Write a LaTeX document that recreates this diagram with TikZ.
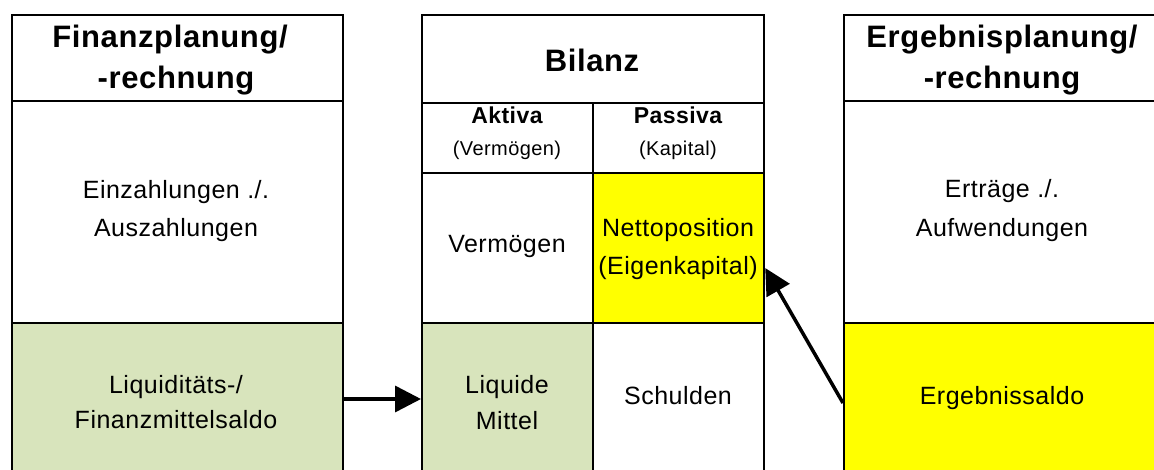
\documentclass[tikz,border=0pt]{standalone}
\usepackage{fontspec}
\setmainfont{Liberation Sans}[LetterSpace=2]
\usetikzlibrary{arrows.meta}
\definecolor{liqgreen}{HTML}{D8E4BC}
\definecolor{hiyellow}{HTML}{FFFF00}
\tikzset{
 cell/.style={draw=black,line width=2.2pt,inner sep=0pt,anchor=north west,fill=white},
 hdtext/.style={anchor=base,inner sep=0pt,font=\fontsize{31}{36}\selectfont\bfseries},
 subtext/.style={anchor=base,inner sep=0pt,font=\fontsize{23}{26}\selectfont\bfseries},
 smalltext/.style={anchor=base,inner sep=0pt,font=\fontsize{20}{23}\selectfont},
 bodytext/.style={anchor=base,inner sep=0pt,font=\fontsize{25}{28}\selectfont},
 arr/.style={line width=3.5pt,-{Triangle[length=26pt,width=26pt]}},
}
\begin{document}
\begin{tikzpicture}[x=1pt,y=-1pt]
\useasboundingbox (0,0) rectangle (1154,470);
\fill[white] (0,0) rectangle (1154,470);
\begin{scope}
\clip (0,0) rectangle (1154,470);
% left column
\node[cell,minimum width=331pt,minimum height=86pt] (fh) at (11,14) {};
\node[cell,minimum width=331pt,minimum height=222pt] (fm) at (11,100) {};
\node[cell,minimum width=331pt,minimum height=170pt,fill=liqgreen] (fb) at (11,322) {};
% middle column
\node[cell,minimum width=342pt,minimum height=88pt] (bh) at (421,14) {};
\node[cell,minimum width=171pt,minimum height=70pt] (ba) at (421,102) {};
\node[cell,minimum width=171pt,minimum height=70pt] (bp) at (592,102) {};
\node[cell,minimum width=171pt,minimum height=150pt] (bv) at (421,172) {};
\node[cell,minimum width=171pt,minimum height=150pt,fill=hiyellow] (bn) at (592,172) {};
\node[cell,minimum width=171pt,minimum height=170pt,fill=liqgreen] (bl) at (421,322) {};
\node[cell,minimum width=171pt,minimum height=170pt] (bs) at (592,322) {};
% right column
\node[cell,minimum width=340pt,minimum height=86pt] (eh) at (843,14) {};
\node[cell,minimum width=340pt,minimum height=222pt] (em) at (843,100) {};
\node[cell,minimum width=340pt,minimum height=170pt,fill=hiyellow] (eb) at (843,322) {};
\end{scope}
% texts
\node[hdtext] (t1) at (170,48) {Finanzplanung/};
\node[hdtext] (t2) at (176,89) {-rechnung};
\node[bodytext] (t3) at (176,199) {Einzahlungen ./.};
\node[bodytext] (t4) at (176,237) {Auszahlungen};
\node[bodytext] (t5) at (176,393) {Liquiditäts-/};
\node[bodytext] (t6) at (176,428) {Finanzmittelsaldo};
\node[hdtext] (t7) at (592,72) {Bilanz};
\node[subtext] (t8) at (507,124) {Aktiva};
\node[smalltext] (t9) at (507,156) {(Vermögen)};
\node[subtext] (t10) at (678,124) {Passiva};
\node[smalltext] (t11) at (678,156) {(Kapital)};
\node[bodytext] (t12) at (507,253) {Vermögen};
\node[bodytext] (t13) at (678,237) {Nettoposition};
\node[bodytext] (t14) at (678,275) {(Eigenkapital)};
\node[bodytext] (t15) at (507,393) {Liquide};
\node[bodytext] (t16) at (507,429) {Mittel};
\node[bodytext] (t17) at (678,404) {Schulden};
\node[hdtext] (t18) at (1002,48) {Ergebnisplanung/};
\node[hdtext] (t19) at (1002,89) {-rechnung};
\node[bodytext] (t20) at (1002,198) {Erträge ./.};
\node[bodytext] (t21) at (1002,237) {Aufwendungen};
\node[bodytext] (t22) at (1002,404) {Ergebnissaldo};
% arrows
\draw[arr] (fb.east |- 0,399) -- (bl.west |- 0,399);
\draw[arr] (eb.west |- 0,403) -- (bn.east |- 0,268);
\end{tikzpicture}
\end{document}
